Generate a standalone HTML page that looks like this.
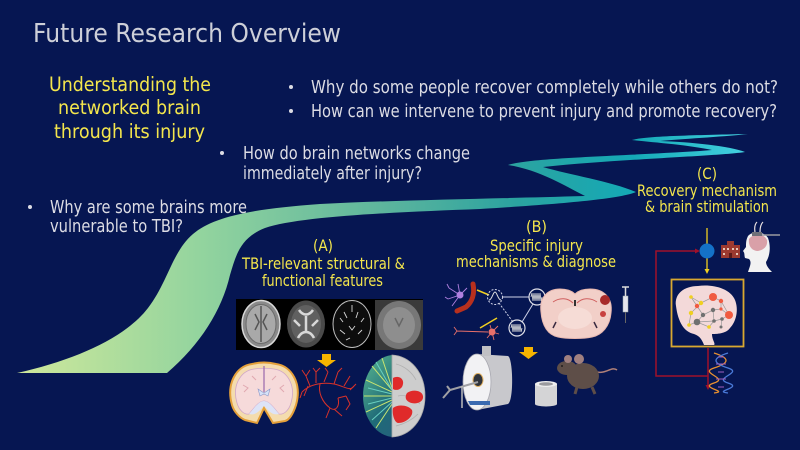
<!DOCTYPE html>
<html><head><meta charset="utf-8"><style>
html,body{margin:0;padding:0;background:#061652;}
svg{display:block}
</style></head><body>
<svg width="800" height="450" viewBox="0 0 800 450" xmlns="http://www.w3.org/2000/svg" font-family="DejaVu Sans, Liberation Sans, sans-serif">
<defs>
<linearGradient id="rib" gradientUnits="userSpaceOnUse" x1="17" y1="0" x2="750" y2="0">
<stop offset="0" stop-color="#cfe89b"/>
<stop offset="0.25" stop-color="#93d49e"/>
<stop offset="0.5" stop-color="#5db59d"/>
<stop offset="0.68" stop-color="#2ba3a0"/>
<stop offset="0.84" stop-color="#14a9b6"/>
<stop offset="1" stop-color="#46d3e3"/>
</linearGradient>
<linearGradient id="fib" x1="0" y1="0" x2="1" y2="1">
<stop offset="0" stop-color="#5ab890"/>
<stop offset="0.5" stop-color="#1f6a78"/>
<stop offset="1" stop-color="#2a5a80"/>
</linearGradient>
<clipPath id="bl"><rect x="360" y="350" width="33" height="90"/></clipPath>
</defs>
<rect width="800" height="450" fill="#061652"/>

<!-- Ribbon -->
<path fill="url(#rib)" d="M17,373 C75,360 125,338 148,308 C168,282 172,252 193,234 C213,217 250,209 320,204 C400,200 480,199 585,196 C565,186 540,170 508,165 C530,158 600,157 700,151 L712,150 C690,145 650,142 632,140 C645,136 700,135 748,134 C720,137 680,139 660,141 C690,142 730,146 745,152 C720,156 620,159 543,167 C570,175 610,181 636,192 C620,199 560,204 480,209 C400,212 300,216 265,228 C240,238 236,255 230,275 C222,310 200,345 167,373 Z"/>

<!-- Title -->
<text x="33" y="42" font-size="26" fill="#cdcfd8" textLength="308" lengthAdjust="spacingAndGlyphs">Future Research Overview</text>

<!-- Yellow heading -->
<g fill="#f4e64c" font-size="19.5">
<text x="49" y="91" textLength="162" lengthAdjust="spacingAndGlyphs">Understanding the</text>
<text x="58" y="114" textLength="143" lengthAdjust="spacingAndGlyphs">networked brain</text>
<text x="54" y="138" textLength="151" lengthAdjust="spacingAndGlyphs">through its injury</text>
</g>

<!-- Bullets -->
<g fill="#dcdce4" font-size="17.5">
<circle cx="291" cy="87" r="2"/>
<text x="311" y="93" textLength="467" lengthAdjust="spacingAndGlyphs">Why do some people recover completely while others do not?</text>
<circle cx="291" cy="111" r="2"/>
<text x="311" y="117" textLength="466" lengthAdjust="spacingAndGlyphs">How can we intervene to prevent injury and promote recovery?</text>
<circle cx="222" cy="153" r="2"/>
<text x="243" y="159" textLength="227" lengthAdjust="spacingAndGlyphs">How do brain networks change</text>
<text x="243" y="179" textLength="179" lengthAdjust="spacingAndGlyphs">immediately after injury?</text>
<circle cx="30" cy="207" r="2"/>
<text x="50" y="213" textLength="197" lengthAdjust="spacingAndGlyphs">Why are some brains more</text>
<text x="50" y="232" textLength="133" lengthAdjust="spacingAndGlyphs">vulnerable to TBI?</text>
</g>

<!-- Section labels -->
<g fill="#f4e64c" font-size="16">
<text x="313" y="251" textLength="20" lengthAdjust="spacingAndGlyphs">(A)</text>
<text x="242" y="269" textLength="163" lengthAdjust="spacingAndGlyphs">TBI-relevant structural &amp;</text>
<text x="262" y="286" textLength="121" lengthAdjust="spacingAndGlyphs">functional features</text>
<text x="526" y="232" textLength="21" lengthAdjust="spacingAndGlyphs">(B)</text>
<text x="490" y="251" textLength="93" lengthAdjust="spacingAndGlyphs">Specific injury</text>
<text x="456" y="267" textLength="160" lengthAdjust="spacingAndGlyphs">mechanisms &amp; diagnose</text>
<text x="697" y="179" textLength="20" lengthAdjust="spacingAndGlyphs">(C)</text>
<text x="637" y="196" textLength="140" lengthAdjust="spacingAndGlyphs">Recovery mechanism</text>
<text x="645" y="212" textLength="124" lengthAdjust="spacingAndGlyphs">&amp; brain stimulation</text>
</g>

<!-- (A) MRI strip -->
<rect x="236" y="299" width="187" height="51" fill="#000"/>
<ellipse cx="261" cy="324" rx="19" ry="23.5" fill="#8a8a8a" stroke="#d8d8d8" stroke-width="1.5"/>
<ellipse cx="261" cy="324" rx="15" ry="19.5" fill="#a9a9a9" stroke="#6a6a6a" stroke-width="1"/>
<path d="M255,314 L259,322 L255,330 M267,314 L263,322 L267,330 M261,306 L261,342" stroke="#555" stroke-width="1.5" fill="none"/>
<ellipse cx="306" cy="324" rx="19" ry="23.5" fill="#4a4a4a"/>
<ellipse cx="306" cy="324" rx="15" ry="19" fill="#606060"/>
<path d="M299,310 C303,316 309,316 313,310 M298,338 C302,330 310,330 314,338 M306,316 L306,332 M294,320 L300,326 M318,320 L312,326" stroke="#d8d8d8" stroke-width="2.5" fill="none"/>
<ellipse cx="352" cy="324" rx="19" ry="23.5" fill="#0d0d0d" stroke="#bdbdbd" stroke-width="1"/>
<path d="M344,312 L347,318 M358,312 L356,318 M349,326 L352,330 L355,326 M340,330 L345,334 M362,330 L358,334 M352,305 L352,312 M346,340 L350,338 M340,318 L343,322 M364,318 L361,322" stroke="#d8d8d8" stroke-width="0.9" fill="none"/>
<rect x="375" y="300" width="48" height="50" fill="#3a3a3a"/>
<ellipse cx="399" cy="325" rx="22" ry="24" fill="#777"/>
<ellipse cx="399" cy="325" rx="16" ry="18" fill="#8e8e8e"/>
<path d="M395,318 L399,326 L403,318" stroke="#666" stroke-width="1.5" fill="none"/>

<!-- Arrow A -->
<path d="M322,354 H331 V360 H336 L326.5,367 L317,360 H322 Z" fill="#f6b400"/>

<!-- Coronal human brain -->
<path d="M232,405 C226,384 236,366 252,364 C260,362 268,362 276,364 C292,366 302,384 296,405 C293,414 289,420 285,421 L273,423 L264,408 L257,423 L245,420 C240,418 234,412 232,405 Z" fill="#f4dcae" stroke="#e4a03a" stroke-width="2"/>
<path d="M237,403 C232,386 240,371 254,369 C261,368 267,368 274,369 C288,371 296,386 291,403 C289,410 284,415 279,414 C274,408 269,401 264,401 C259,401 254,408 249,414 C244,415 239,410 237,403 Z" fill="#f6dada" stroke="#cfa6c8" stroke-width="0.8"/>
<path d="M249,414 C254,408 259,401 264,401 C269,401 274,408 279,414 C272,416 268,410 264,406 C260,410 256,416 249,414 Z" fill="#dde3f7"/>
<line x1="264" y1="366" x2="264" y2="392" stroke="#a070b0" stroke-width="1.3"/>
<path d="M258,389 L264,393 L270,389 L268,396 L264,394 L260,396 Z" fill="#d6e2f8" stroke="#8a96c8" stroke-width="0.6"/>
<path d="M243,385 L248,388 L244,392 M284,385 L280,388 L284,392 M252,376 L256,380 M276,376 L272,380" stroke="#e0a8b0" stroke-width="1" fill="none"/>

<!-- Vessels -->
<g stroke="#d9322a" stroke-width="1" fill="none">
<path d="M302,392 C310,384 322,382 334,384 C344,386 350,392 354,386"/>
<path d="M320,384 C318,392 322,402 330,408 C336,412 340,406 338,398"/>
<path d="M330,408 L326,418 M334,409 L342,416 M338,398 L346,396"/>
<path d="M310,386 L306,376 M316,383 L316,372 M324,382 L328,372 M334,384 L338,372 M344,386 L350,376 M350,390 L356,384"/>
<path d="M306,376 L302,370 M306,376 L310,370 M316,372 L313,368 M316,372 L320,368 M328,372 L325,368 M338,372 L342,368"/>
<path d="M302,392 L300,398 M308,386 L304,396 M346,396 L350,404 L346,410"/>
</g>

<!-- 3D brain -->
<ellipse cx="394" cy="396" rx="31" ry="41" fill="url(#fib)" clip-path="url(#bl)"/>
<g clip-path="url(#bl)" stroke-width="1" fill="none">
<path d="M366,380 L392,392 M364,396 L392,396 M366,412 L392,400 M372,366 L392,390 M376,428 L392,404 M382,358 L392,388" stroke="#c8e470"/>
<path d="M368,388 L392,394 M368,404 L392,398 M372,420 L392,402 M376,362 L392,390" stroke="#6ad0c0"/>
</g>
<path d="M392,355 C410,356 425,372 425,396 C425,420 410,436 392,437 Z" fill="#cdcdcd" stroke="#a8a8a8" stroke-width="0.8"/>
<path d="M396,364 C404,366 412,372 416,380 M398,396 C406,394 414,398 420,404 M396,426 C404,424 412,420 418,414" stroke="#b0b0b0" stroke-width="0.8" fill="none"/>
<path d="M393,378 C398,375 404,378 403,384 C402,390 396,391 393,389 Z" fill="#e02a2a"/>
<path d="M407,393 C412,389 422,390 423,396 C424,403 414,405 409,402 C405,400 405,396 407,393 Z" fill="#e02a2a"/>
<path d="M393,408 C398,404 408,405 412,410 C414,416 406,423 398,423 C394,422 392,414 393,408 Z" fill="#e02a2a"/>

<!-- (B) neurons & circuit -->
<g stroke="#b080e0" stroke-width="0.9" fill="none">
<path d="M460,295 L449,288 M460,295 L448,299 M460,295 L452,306 M460,295 L458,284 M460,295 L467,288 M449,288 L447,284 M448,299 L445,297"/>
</g>
<circle cx="460" cy="295" r="3.5" fill="#b080e0"/>
<path d="M473,284 C475,294 472,302 466,307 C462,309 459,310 457,311" stroke="#b8301e" stroke-width="5" fill="none" stroke-linecap="round"/>
<line x1="477" y1="290" x2="489" y2="295" stroke="#f0d020" stroke-width="1.5"/>
<circle cx="495" cy="297" r="7.5" fill="none" stroke="#cfd2e8" stroke-width="1" stroke-dasharray="2,1.5"/>
<path d="M489,300 C492,300 493,292 495,292 C497,292 498,300 501,300" stroke="#e0e0e0" stroke-width="1" fill="none"/>
<line x1="503" y1="297" x2="529" y2="297" stroke="#cfd2e8" stroke-width="1"/>
<circle cx="537" cy="297" r="8" fill="none" stroke="#e0e0e8" stroke-width="1.2"/>
<path d="M531,297 L532,293 L533,301 L534,293 L535,301 L536,293 L537,301 L538,293 L539,301 L540,293 L541,301 L542,297" stroke="#e0e0e0" stroke-width="0.8" fill="none"/>
<line x1="499" y1="303" x2="513" y2="322" stroke="#cfd2e8" stroke-width="1" stroke-dasharray="2,1.5"/>
<circle cx="517" cy="328" r="8" fill="none" stroke="#e0e0e8" stroke-width="1.2"/>
<path d="M511,328 L512,324 L513,332 L514,324 L515,332 L516,324 L517,332 L518,324 L519,332 L520,324 L521,332 L522,328" stroke="#e0e0e0" stroke-width="0.8" fill="none"/>
<line x1="522" y1="322" x2="533" y2="304" stroke="#cfd2e8" stroke-width="1"/>
<g stroke="#e8706a" stroke-width="0.9" fill="none">
<path d="M457,331 L488,332 M457,331 L454,327 M457,331 L454,335 M492,332 L498,326 M492,332 L499,334 M492,332 L494,340 M492,332 L487,338 M492,332 L490,325"/>
</g>
<circle cx="492" cy="332" r="3.5" fill="#e8706a"/>
<line x1="480" y1="328" x2="497" y2="318" stroke="#f0d020" stroke-width="1.5"/>

<!-- Mouse brain coronal -->
<path d="M541,312 C539,297 548,289 560,289 C567,289 572,291 575,294 C578,291 583,289 590,289 C604,289 613,298 611,313 C610,326 602,335 592,337 C584,339 566,339 558,337 C548,335 542,326 541,312 Z" fill="#f2cfc8" stroke="#e8b8b0" stroke-width="1"/>
<path d="M553,302 C560,297 568,298 573,303 M597,302 C590,297 582,298 577,303" stroke="#d06060" stroke-width="1" fill="none"/>
<path d="M556,322 L553,328 M594,322 L597,328" stroke="#3a2a40" stroke-width="1.5" fill="none"/>
<ellipse cx="575" cy="318" rx="17" ry="11" fill="#f6dcd6"/>
<circle cx="605" cy="300" r="5" fill="#a82a2a"/>
<circle cx="603" cy="314" r="3" fill="#c84040"/>
<rect x="574" y="300" width="2" height="6" fill="#333"/>
<!-- Syringe -->
<rect x="623" y="296" width="5" height="16" fill="#e6e6ee" stroke="#9aa" stroke-width="0.5"/>
<line x1="625.5" y1="287" x2="625.5" y2="296" stroke="#ddd" stroke-width="1.5"/>
<line x1="622" y1="287" x2="629" y2="287" stroke="#ddd" stroke-width="1.5"/>
<line x1="625.5" y1="312" x2="625.5" y2="323" stroke="#666" stroke-width="1"/>

<!-- Arrow B -->
<path d="M524,347 H533 V352 H538 L528.5,359 L519,352 H524 Z" fill="#f6b400"/>

<!-- MRI scanner -->
<path d="M477,354 L508,356 C513,358 514,400 508,404 L477,410 Z" fill="#c8c8cc"/>
<ellipse cx="477" cy="382" rx="14" ry="28" fill="#f2f2f4" stroke="#a8a8b0" stroke-width="0.8"/>
<ellipse cx="478" cy="380" rx="5" ry="6.5" fill="#30343c" stroke="#e0b060" stroke-width="1"/>
<rect x="482" y="346" width="9" height="10" fill="#c0c0c4"/>
<path d="M443,398 L450,390 L478,382 M450,390 L447,386" stroke="#a0a0a4" stroke-width="2" fill="none"/>
<path d="M468,401 L490,401 L490,405 L470,405 Z" fill="#3a6ab0"/>
<line x1="462" y1="386" x2="462" y2="408" stroke="#bbb" stroke-width="1.5"/>

<!-- small cylinder -->
<rect x="535" y="384" width="22" height="20" fill="#d4d4d6"/>
<ellipse cx="546" cy="404" rx="11" ry="2.5" fill="#d4d4d6"/>
<ellipse cx="546" cy="384" rx="11" ry="3" fill="#eeeeee"/>
<ellipse cx="546" cy="384" rx="7" ry="1.8" fill="#9a9a9e"/>

<!-- Mouse -->
<path d="M597,372 C606,374 612,366 617,370" stroke="#b08078" stroke-width="1.5" fill="none"/>
<ellipse cx="583" cy="376" rx="16" ry="13" fill="#5e4e48"/>
<ellipse cx="567" cy="368" rx="10" ry="7" fill="#5e4e48"/>
<circle cx="568" cy="359" r="4" fill="#a08080"/>
<circle cx="579" cy="359" r="5" fill="#a08080"/>
<path d="M577,387 L575,394 M592,387 L595,394" stroke="#5e4e48" stroke-width="3"/>
<circle cx="562" cy="366" r="0.9" fill="#111"/>

<!-- (C) -->
<line x1="707" y1="228" x2="707" y2="270" stroke="#f0d020" stroke-width="1.3"/>
<path d="M704.5,269 L709.5,269 L707,274 Z" fill="#f0d020"/>
<circle cx="707" cy="251" r="7.5" fill="#1472c8"/>
<g stroke="#a0102a" stroke-width="1.5" fill="none">
<polyline points="697,251 656,251 656,376 708,376"/>
<line x1="708" y1="348" x2="708" y2="386"/>
</g>
<path d="M695,248.5 L700,251 L695,253.5 Z" fill="#a0102a"/>
<path d="M705.5,385 L710.5,385 L708,390 Z" fill="#a0102a"/>
<!-- hospital -->
<rect x="721" y="245" width="19" height="13" fill="#9c3a30"/>
<rect x="727" y="241" width="7" height="5" fill="#9c3a30"/>
<g fill="#e8c8b8">
<rect x="723" y="248" width="2" height="2"/><rect x="727" y="248" width="2" height="2"/><rect x="732" y="248" width="2" height="2"/><rect x="736" y="248" width="2" height="2"/>
<rect x="723" y="253" width="2" height="2"/><rect x="736" y="253" width="2" height="2"/>
</g>
<rect x="729" y="253" width="3" height="5" fill="#5a1a18"/>
<!-- head -->
<path d="M748,236 C752,231 764,231 768,238 C771,246 770,256 766,262 C766,266 770,270 772,272 L748,272 C750,266 752,262 749,259 L745,258 C744,255 745,253 743,251 L746,247 C746,243 746,240 748,236 Z" fill="#f2f2f2"/>
<path d="M749,239 C753,233 764,233 767,240 C768,246 764,250 758,251 C752,251 748,246 749,239 Z" fill="#d9a0a8"/>
<path d="M753,235 L780,235" stroke="#9a9aa0" stroke-width="1.5"/>
<rect x="752" y="232" width="10" height="4" fill="#707078"/>
<path d="M755,232 C754,226 756,223 757,222 M760,232 C760,226 762,223 763,222" stroke="#e8e0e0" stroke-width="1.2" fill="none"/>
<!-- box -->
<rect x="671.5" y="279.5" width="72" height="67" fill="none" stroke="#d8a830" stroke-width="1.8"/>
<path d="M676,306 C674,294 684,286 698,286 C712,284 730,288 735,300 C739,310 736,322 730,328 C726,334 716,334 712,334 C712,340 716,344 714,345 L704,345 C702,340 700,336 694,334 C684,332 678,322 676,306 Z" fill="#f3d9d9"/>
<g stroke="#999" stroke-width="0.7" fill="none">
<path d="M691,297 L701,303 L713,297 L721,301 L729,315 L722,319 L714,321 L697,322 L689,325 L691,313 L701,303 M703,315 L713,310 L721,309 L729,315 M697,306 L703,315 L697,322 M713,310 L714,321 L709,327 L697,322 M722,319 L721,327 M697,306 L691,297 M721,301 L721,309"/>
</g>
<g fill="#f05a40">
<circle cx="713" cy="297" r="4"/><circle cx="721" cy="301" r="2.2"/><circle cx="729" cy="315" r="4"/><circle cx="697" cy="306" r="2.2"/><circle cx="721" cy="309" r="1.6"/>
</g>
<g fill="#f0d020">
<circle cx="691" cy="297" r="1.8"/><circle cx="701" cy="303" r="2.2"/><circle cx="691" cy="313" r="2.2"/><circle cx="689" cy="325" r="1.8"/><circle cx="709" cy="327" r="1.8"/>
</g>
<g fill="#707070">
<circle cx="697" cy="322" r="3.3"/><circle cx="703" cy="315" r="2.2"/><circle cx="713" cy="310" r="2.2"/><circle cx="714" cy="321" r="1.8"/><circle cx="722" cy="319" r="1.8"/><circle cx="721" cy="327" r="1.5"/>
</g>
<!-- DNA -->
<path d="M714,353 C730,358 730,363 714,368 C698,373 730,378 714,383 C698,388 730,391 714,393" stroke="#e89030" stroke-width="1.3" fill="none"/>
<path d="M728,353 C712,358 712,363 728,368 C744,373 712,378 728,383 C744,388 712,391 728,393" stroke="#4a7ad8" stroke-width="1.3" fill="none"/>
<path d="M718,357 L724,357 M716,364 L726,364 M718,372 L724,372 M716,379 L726,379 M718,387 L724,387" stroke="#a060c0" stroke-width="1"/>
</svg>
</body></html>
